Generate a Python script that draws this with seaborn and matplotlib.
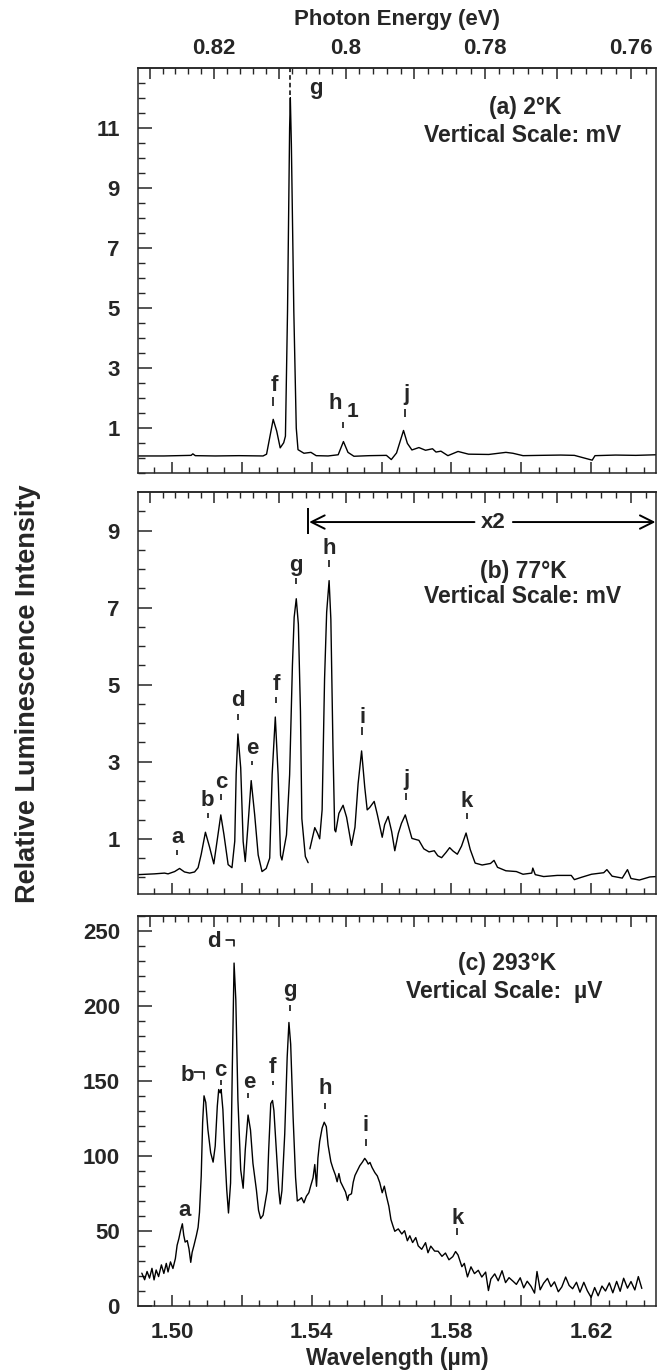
import numpy as np
import matplotlib
matplotlib.use("Agg")
import matplotlib.pyplot as plt
import seaborn as sns
from matplotlib.ticker import MultipleLocator, FixedLocator, FuncFormatter

# ---------------- data ----------------
# (a) 2 K, wavelength in um, intensity in mV
wl_a = [1.4898, 1.4977, 1.5055, 1.5060, 1.5067, 1.5124, 1.5192, 1.5261, 1.5271, 1.5280,
        1.5290, 1.5300, 1.5310, 1.5320, 1.5325, 1.5331, 1.5337, 1.5339, 1.5342, 1.5349,
        1.5356, 1.5361, 1.5378, 1.5398, 1.5413, 1.5447, 1.5476, 1.5491, 1.5504, 1.5521,
        1.5565, 1.5614, 1.5628, 1.5643, 1.5663, 1.5674, 1.5687, 1.5707, 1.5726, 1.5746,
        1.5756, 1.5770, 1.5790, 1.5819, 1.5849, 1.5907, 1.5956, 1.5976, 1.6005, 1.6054,
        1.6113, 1.6152, 1.6203, 1.6211, 1.6270, 1.6328, 1.6387]
int_a = [0.06, 0.06, 0.08, 0.13, 0.07, 0.06, 0.07, 0.06, 0.12, 0.67,
         1.28, 0.89, 0.33, 0.50, 0.72, 4.89, 11.0, 12.0, 10.44, 4.88,
         0.99, 0.27, 0.15, 0.18, 0.07, 0.06, 0.10, 0.54, 0.18, 0.05,
         0.07, 0.08, -0.06, 0.16, 0.91, 0.48, 0.26, 0.34, 0.25, 0.30,
         0.19, 0.22, 0.07, 0.21, 0.12, 0.11, 0.18, 0.15, 0.07, 0.08,
         0.09, 0.08, -0.08, 0.07, 0.09, 0.08, 0.10]

# (b) 77 K, first piece (unscaled) and the x2 piece
wl_b1 = [1.4903, 1.4950, 1.4979, 1.4989, 1.5008, 1.5022, 1.5036, 1.5051, 1.5065, 1.5075,
         1.5084, 1.5096, 1.5108, 1.5120, 1.5132, 1.5140, 1.5149, 1.5161, 1.5172, 1.5180,
         1.5184, 1.5189, 1.5197, 1.5204, 1.5210, 1.5218, 1.5227, 1.5237, 1.5247, 1.5258,
         1.5270, 1.5280, 1.5287, 1.5296, 1.5304, 1.5311, 1.5315, 1.5328, 1.5337, 1.5345,
         1.5350, 1.5356, 1.5362, 1.5368, 1.5372, 1.5382, 1.5390]
int_b1 = [0.07, 0.09, 0.11, 0.09, 0.15, 0.23, 0.14, 0.11, 0.14, 0.25,
          0.60, 1.17, 0.78, 0.35, 1.11, 1.62, 1.11, 0.33, 0.25, 0.94,
          2.68, 3.72, 2.84, 0.93, 0.41, 1.37, 2.51, 1.62, 0.58, 0.15,
          0.23, 0.50, 2.67, 4.16, 2.67, 0.57, 0.45, 1.10, 2.66, 5.50,
          6.75, 7.23, 6.57, 4.31, 1.52, 0.54, 0.38]
wl_b2 = [1.5395, 1.5409, 1.5417, 1.5423, 1.5430, 1.5437, 1.5443, 1.5450, 1.5455, 1.5461,
         1.5466, 1.5469, 1.5478, 1.5490, 1.5500, 1.5514, 1.5524, 1.5533, 1.5543, 1.5552,
         1.5559, 1.5566, 1.5579, 1.5588, 1.5602, 1.5609, 1.5619, 1.5629, 1.5638, 1.5648,
         1.5657, 1.5668, 1.5687, 1.5707, 1.5721, 1.5736, 1.5751, 1.5761, 1.5772, 1.5785,
         1.5795, 1.5805, 1.5817, 1.5829, 1.5842, 1.5854, 1.5868, 1.5888, 1.5912, 1.5922,
         1.5932, 1.5956, 1.5986, 1.6005, 1.6030, 1.6033, 1.6040, 1.6064, 1.6103, 1.6143,
         1.6152, 1.6172, 1.6201, 1.6236, 1.6245, 1.6260, 1.6289, 1.6304, 1.6314, 1.6338,
         1.6368, 1.6387]
int_b2 = [0.74, 1.29, 1.14, 1.00, 1.75, 5.15, 6.88, 7.70, 6.70, 3.40,
          1.23, 1.18, 1.66, 1.87, 1.56, 0.83, 1.30, 2.43, 3.28, 2.34,
          1.75, 1.81, 1.97, 1.63, 1.04, 1.37, 1.58, 1.19, 0.69, 1.14,
          1.40, 1.62, 1.01, 0.96, 0.74, 0.66, 0.69, 0.56, 0.51, 0.65,
          0.77, 0.68, 0.60, 0.81, 1.15, 0.72, 0.37, 0.32, 0.36, 0.44,
          0.26, 0.17, 0.15, 0.08, 0.11, 0.24, 0.07, 0.02, 0.05, 0.05,
          -0.06, 0.00, 0.08, 0.12, 0.20, 0.03, -0.02, 0.20, -0.03, -0.07,
          0.01, 0.02]

# (c) 293 K, intensity in uV
wl_c = [1.4914, 1.4922, 1.4929, 1.4936, 1.4943, 1.4949, 1.4955, 1.4962, 1.4970, 1.4977,
        1.4984, 1.4989, 1.4996, 1.5003, 1.5010, 1.5015, 1.5020, 1.5025, 1.5030, 1.5034,
        1.5038, 1.5044, 1.5049, 1.5054, 1.5058, 1.5063, 1.5070, 1.5075, 1.5079, 1.5084,
        1.5088, 1.5092, 1.5097, 1.5103, 1.5111, 1.5118, 1.5124, 1.5130, 1.5134, 1.5138,
        1.5141, 1.5146, 1.5151, 1.5157, 1.5162, 1.5168, 1.5173, 1.5178, 1.5183, 1.5189,
        1.5197, 1.5204, 1.5210, 1.5218, 1.5225, 1.5232, 1.5242, 1.5248, 1.5254, 1.5261,
        1.5268, 1.5273, 1.5277, 1.5283, 1.5288, 1.5292, 1.5299, 1.5306, 1.5310, 1.5315,
        1.5323, 1.5330, 1.5335, 1.5340, 1.5347, 1.5354, 1.5359, 1.5366, 1.5371, 1.5378,
        1.5385, 1.5392, 1.5397, 1.5404, 1.5409, 1.5414, 1.5418, 1.5423, 1.5430, 1.5436,
        1.5442, 1.5447, 1.5455, 1.5461, 1.5468, 1.5473, 1.5478, 1.5483, 1.5490, 1.5497,
        1.5503, 1.5506, 1.5514, 1.5519, 1.5524, 1.5531, 1.5538, 1.5545, 1.5552, 1.5557,
        1.5562, 1.5567, 1.5573, 1.5581, 1.5588, 1.5595, 1.5602, 1.5608, 1.5614, 1.5621,
        1.5627, 1.5633, 1.5638, 1.5648, 1.5658, 1.5666, 1.5674, 1.5681, 1.5689, 1.5698,
        1.5705, 1.5715, 1.5726, 1.5733, 1.5741, 1.5752, 1.5762, 1.5773, 1.5783, 1.5793,
        1.5804, 1.5812, 1.5819, 1.5830, 1.5837, 1.5846, 1.5856, 1.5866, 1.5877, 1.5887,
        1.5898, 1.5906, 1.5913, 1.5924, 1.5934, 1.5945, 1.5955, 1.5965, 1.5976, 1.5986,
        1.5997, 1.6007, 1.6017, 1.6028, 1.6038, 1.6045, 1.6054, 1.6064, 1.6075, 1.6085,
        1.6095, 1.6106, 1.6116, 1.6127, 1.6137, 1.6147, 1.6158, 1.6168, 1.6179, 1.6189,
        1.6200, 1.6210, 1.6220, 1.6231, 1.6241, 1.6252, 1.6262, 1.6273, 1.6283, 1.6293,
        1.6304, 1.6314, 1.6325, 1.6335, 1.6345]
int_c = [22.1, 17.7, 23.2, 18.8, 25.3, 17.6, 24.2, 19.8, 27.6, 21.9,
         28.6, 22.9, 29.6, 25.2, 31.8, 40.7, 45.1, 50.6, 55.0, 47.3,
         42.8, 43.8, 38.3, 29.3, 36.0, 40.4, 47.1, 52.6, 62.6, 87.0,
         122.5, 140.3, 135.9, 118.0, 102.4, 96.1, 106.8, 133.4, 144.5, 142.3,
         144.5, 131.1, 104.4, 77.8, 62.2, 82.2, 159.9, 228.8, 204.3, 137.6,
         90.9, 78.7, 104.2, 127.5, 117.5, 95.3, 77.4, 64.0, 58.5, 60.7,
         70.6, 77.3, 103.9, 135.1, 137.2, 130.5, 103.8, 77.2, 68.2, 77.1,
         114.9, 166.0, 189.2, 174.8, 125.9, 85.9, 70.2, 71.3, 72.4, 69.0,
         73.4, 75.7, 80.0, 85.6, 94.5, 80.0, 98.8, 109.9, 118.8, 122.7,
         119.8, 107.6, 96.4, 91.9, 87.5, 83.0, 88.5, 82.9, 79.6, 76.2,
         70.6, 74.0, 75.0, 82.7, 87.2, 90.5, 93.8, 96.0, 98.6, 97.0,
         94.8, 95.9, 92.5, 89.1, 86.9, 82.4, 75.7, 80.1, 73.5, 66.7,
         57.8, 53.4, 50.0, 51.6, 48.2, 50.4, 43.7, 47.0, 42.5, 45.8,
         40.3, 38.0, 42.4, 35.7, 40.1, 36.8, 36.7, 33.3, 35.5, 31.0,
         33.1, 36.5, 34.2, 26.4, 28.6, 19.6, 26.3, 21.8, 24.0, 19.5,
         22.8, 10.5, 18.2, 21.6, 17.0, 23.7, 15.8, 19.1, 16.8, 14.6,
         19.0, 12.3, 16.7, 13.3, 8.8, 23.2, 11.0, 15.4, 18.6, 13.1,
         16.3, 9.7, 12.9, 19.5, 13.9, 11.7, 16.0, 9.4, 16.0, 10.4,
         5.9, 12.5, 7.0, 13.5, 10.2, 15.6, 9.0, 16.6, 10.0, 18.7,
         12.1, 16.5, 10.9, 19.8, 11.9]

# labelled y values on each panel
yticks_a = [1, 3, 5, 7, 9, 11]
yticks_b = [1, 3, 5, 7, 9]
yticks_c = [0, 50, 100, 150, 200, 250]

# peak letters: text position and the little tick under it
peaks_a = ["f", "h", "j"]
text_x_a = [1.5292, 1.5467, 1.5672]
text_y_a = [2.40, 1.81, 2.11]
mark_x_a = [1.5290, 1.5491, 1.5667]
mark_top_a = [2.01, 1.20, 1.61]
mark_bot_a = [1.73, 1.00, 1.36]

peaks_b = ["a", "b", "c", "d", "e", "f", "g", "h", "i", "j", "k"]
text_x_b = [1.5016, 1.5102, 1.5141, 1.5190, 1.5230, 1.5298, 1.5356, 1.5450, 1.5545, 1.5670, 1.5844]
text_y_b = [1.03, 1.99, 2.46, 4.58, 3.34, 5.01, 8.10, 8.53, 4.15, 2.53, 1.98]
mark_top_b = [0.70, 1.68, 2.16, 4.25, 3.03, 4.69, 7.77, 8.24, 3.91, 2.18, 1.67]
mark_bot_b = [0.57, 1.53, 2.00, 4.08, 2.91, 4.52, 7.60, 8.05, 3.69, 2.01, 1.52]

peaks_c = ["a", "b", "c", "d", "e", "f", "g", "h", "i", "k"]
text_x_c = [1.5035, 1.5044, 1.5140, 1.5120, 1.5221, 1.5288, 1.5337, 1.5439, 1.5555, 1.5819]
text_y_c = [63.8, 153.7, 157.3, 243.4, 149.0, 159.4, 210.8, 144.9, 120.4, 58.6]
mark_x_c = [1.5140, 1.5218, 1.5288, 1.5337, 1.5439, 1.5555, 1.5817]
mark_top_c = [151.1, 142.4, 150.5, 201.0, 135.8, 111.5, 52.0]
mark_bot_c = [147.8, 138.6, 147.2, 197.0, 131.6, 107.1, 47.5]

HC = 1.23984  # eV * um
XMIN, XMAX = 1.4903, 1.6387


def wl2ev(x):
    x = np.asarray(x, dtype=float)
    with np.errstate(divide="ignore"):
        return HC / x


def wl_fmt(x, pos):
    k = int(round(x / 0.02))
    return f"{x:.2f}" if k % 2 == 1 else ""


def ev_fmt(e, pos):
    k = int(round(e * 100))
    return f"{k / 100:g}" if k % 2 == 0 else ""


sns.set_theme(style="ticks", rc={"axes.linewidth": 1.1,
                                 "xtick.direction": "in", "ytick.direction": "in"})
plt.rcParams["font.family"] = ["Liberation Sans", "DejaVu Sans"]
plt.rcParams["font.weight"] = "bold"
plt.rcParams["axes.labelweight"] = "bold"

FS = 16
fig = plt.figure(figsize=(6.65, 13.7), dpi=100)
ax_a = fig.add_axes([0.2075, 0.6547, 0.7797, 0.2954])
ax_b = fig.add_axes([0.2075, 0.3478, 0.7797, 0.2928])
ax_c = fig.add_axes([0.2075, 0.0465, 0.7797, 0.2847])

for ax, x, y in [(ax_a, wl_a, int_a), (ax_b, wl_b1, int_b1),
                 (ax_b, wl_b2, int_b2), (ax_c, wl_c, int_c)]:
    sns.lineplot(x=x, y=y, ax=ax, color="black", lw=1.0, estimator=None, sort=False)


def dress(ax, ylim, yticks, minor, offset, labelbottom, labeltop):
    ax.set_xlim(XMIN, XMAX)
    ax.set_ylim(*ylim)
    ax.set_xlabel("")
    ax.set_ylabel("")
    ax.xaxis.set_major_locator(MultipleLocator(0.02))
    ax.xaxis.set_minor_locator(MultipleLocator(0.005))
    ax.xaxis.set_major_formatter(FuncFormatter(wl_fmt))
    ax.yaxis.set_major_locator(FixedLocator(yticks))
    ax.yaxis.set_minor_locator(MultipleLocator(minor, offset=offset))
    ax.tick_params(axis="x", which="major", length=8, width=1.1, labelsize=FS,
                   pad=11, labelbottom=labelbottom, top=False)
    ax.tick_params(axis="x", which="minor", length=4, width=1.0, top=False)
    ax.tick_params(axis="y", which="major", length=10, width=1.1, labelsize=FS, pad=13)
    ax.tick_params(axis="y", which="minor", length=5, width=1.0)
    for s in ax.spines.values():
        s.set_linewidth(1.1)
    sec = ax.secondary_xaxis("top", functions=(wl2ev, wl2ev))
    sec.xaxis.set_major_locator(MultipleLocator(0.01))
    sec.xaxis.set_minor_locator(MultipleLocator(0.002))
    sec.xaxis.set_major_formatter(FuncFormatter(ev_fmt))
    sec.tick_params(axis="x", which="major", direction="in", length=8, width=1.1,
                    labelsize=FS, pad=7, labeltop=labeltop)
    sec.tick_params(axis="x", which="minor", direction="in", length=4, width=1.0)
    return sec


sec_a = dress(ax_a, (-0.51, 12.98), yticks_a, 0.5, 1, False, True)
dress(ax_b, (-0.42, 9.99), yticks_b, 0.5, 0, False, False)
dress(ax_c, (0, 260), yticks_c, 10, 0, True, False)

sec_a.set_xlabel("Photon Energy (eV)", fontsize=FS, labelpad=9)
ax_c.set_xlabel("Wavelength (\u00b5m)", fontsize=FS + 0.5, labelpad=3)
fig.text(0.042, 0.4938, "Relative Luminescence Intensity", rotation=90,
         ha="center", va="center", fontsize=19.5)

# ---- panel (a) labels
for s, tx, ty in zip(peaks_a, text_x_a, text_y_a):
    ax_a.text(tx, ty, s, ha="center", va="center", fontsize=FS)
ax_a.vlines(mark_x_a, mark_bot_a, mark_top_a, color="black", lw=1.1)
ax_a.text(1.5516, 1.54, "1", ha="center", va="center", fontsize=FS - 1)
ax_a.text(1.5413, 12.32, "g", ha="center", va="center", fontsize=FS)
ax_a.vlines(1.5339, 12.10, 12.98, color="black", lw=1.1, linestyles=(0, (3, 2)))
ax_a.text(1.6010, 11.69, "(a) 2\u00b0K", ha="center", va="center", fontsize=FS + 0.5)
ax_a.text(1.6005, 10.75, "Vertical Scale: mV", ha="center", va="center", fontsize=FS + 0.5)

# ---- panel (b) labels
for s, tx, ty in zip(peaks_b, text_x_b, text_y_b):
    ax_b.text(tx, ty, s, ha="center", va="center", fontsize=FS)
ax_b.vlines(text_x_b, mark_bot_b, mark_top_b, color="black", lw=1.1)
ax_b.vlines(1.5390, 8.92, 9.59, color="black", lw=1.4)
arrow = dict(arrowstyle="->", color="black", lw=1.4, mutation_scale=24, shrinkA=0, shrinkB=0)
ax_b.annotate("", xy=(1.5393, 9.22), xytext=(1.5866, 9.22), arrowprops=arrow)
ax_b.annotate("", xy=(1.6384, 9.22), xytext=(1.5976, 9.22), arrowprops=arrow)
ax_b.text(1.5921, 9.22, "x2", ha="center", va="center", fontsize=FS)
ax_b.text(1.6005, 7.94, "(b) 77\u00b0K", ha="center", va="center", fontsize=FS + 0.5)
ax_b.text(1.6005, 7.29, "Vertical Scale: mV", ha="center", va="center", fontsize=FS + 0.5)

# ---- panel (c) labels
for s, tx, ty in zip(peaks_c, text_x_c, text_y_c):
    ax_c.text(tx, ty, s, ha="center", va="center", fontsize=FS)
ax_c.vlines(mark_x_c, mark_bot_c, mark_top_c, color="black", lw=1.1)
ax_c.plot([1.5063, 1.5091, 1.5091], [155.9, 155.9, 151.5], color="black", lw=1.1)
ax_c.plot([1.5156, 1.5177, 1.5177], [244.4, 244.4, 240.0], color="black", lw=1.1)
ax_c.text(1.5960, 228.5, "(c) 293\u00b0K", ha="center", va="center", fontsize=FS + 0.5)
ax_c.text(1.5950, 209.6, "Vertical Scale:  \u00b5V", ha="center", va="center", fontsize=FS + 0.5)

fig.savefig("out.png", dpi=100)
